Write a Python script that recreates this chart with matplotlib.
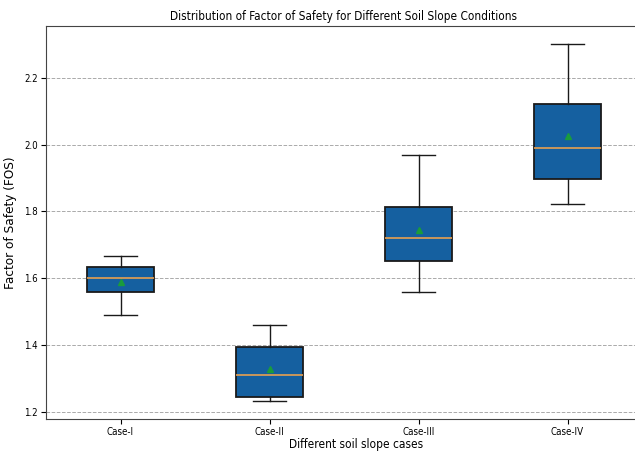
import matplotlib
matplotlib.use("Agg")
import matplotlib.pyplot as plt

plt.rcParams["font.family"] = ["DejaVu Sans"]
plt.rcParams["font.stretch"] = "condensed"

cases = ["Case-I", "Case-II", "Case-III", "Case-IV"]
whislo = [1.49, 1.232, 1.56, 1.822]
q1 = [1.558, 1.246, 1.653, 1.896]
med = [1.600, 1.311, 1.720, 1.991]
q3 = [1.635, 1.393, 1.812, 2.121]
whishi = [1.668, 1.460, 1.970, 2.301]
means = [1.590, 1.328, 1.744, 2.026]

stats = []
for i, c in enumerate(cases):
    stats.append(dict(label=c, whislo=whislo[i], q1=q1[i], med=med[i],
                      q3=q3[i], whishi=whishi[i], mean=means[i], fliers=[]))

fig = plt.figure(figsize=(6.35, 4.51), dpi=100)
ax = fig.add_axes([46/635, (451-419)/451, 596/635, (419-26)/451])

bp = ax.bxp(stats, positions=[1, 2, 3, 4], widths=0.45, patch_artist=True,
            showmeans=True,
            boxprops=dict(facecolor="#1560A0", edgecolor="#1a1a1a", linewidth=1.3),
            medianprops=dict(color="#E8A050", linewidth=1.2),
            whiskerprops=dict(color="#1a1a1a", linewidth=1.0),
            capprops=dict(color="#1a1a1a", linewidth=1.0),
            meanprops=dict(marker="^", markerfacecolor="#1a9c3c",
                           markeredgecolor="#1a9c3c", markersize=5))

ax.set_xlim(0.5, 4.5)
ax.set_ylim(1.179, 2.355)
ax.set_yticks([1.2, 1.4, 1.6, 1.8, 2.0, 2.2])
ax.yaxis.grid(True, linestyle="--", color="#aaaaaa", linewidth=0.7)
ax.set_axisbelow(True)
ax.tick_params(labelsize=7, pad=2.5)
for s in ax.spines.values():
    s.set_color("#444444")

ax.set_title("Distribution of Factor of Safety for Different Soil Slope Conditions",
             fontsize=8.5, pad=4)
ax.set_xlabel("Different soil slope cases", fontsize=8.6, labelpad=1)
ax.xaxis.set_label_coords((356 - 46) / 596, -0.049)
ax.set_ylabel("Factor of Safety (FOS)", fontsize=8.7, labelpad=5,
              fontstretch="normal")

fig.savefig("out.png", dpi=100)
